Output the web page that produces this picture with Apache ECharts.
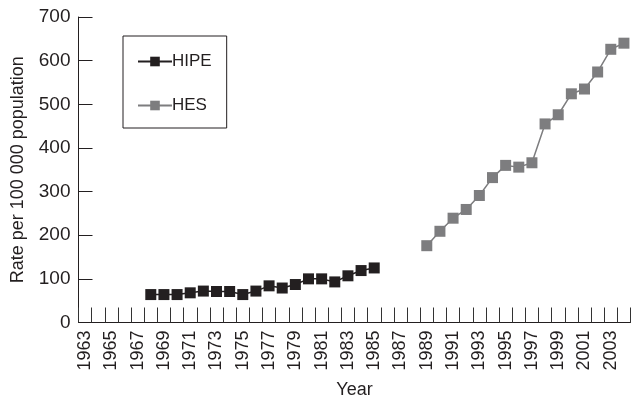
<!DOCTYPE html>
<html>
<head>
<meta charset="utf-8">
<script src="https://cdn.jsdelivr.net/npm/echarts@6/dist/echarts.min.js"></script>
<style>html,body{margin:0;padding:0;background:#fff;overflow:hidden}#c{width:631px;height:406px}</style>
</head>
<body>
<div id="c"></div>
<script>
var firstYear = 1963, lastYear = 2004;
var hipeStart = 1968;
var hipeValues = [64, 64, 64, 68, 72, 71, 71, 64, 72, 84, 79, 87, 100, 100, 93, 107, 119, 125];
var hesStart = 1989;
var hesValues = [176, 209, 239, 259, 291, 332, 360, 356, 366, 455, 476, 524, 535, 574, 626, 640];
var yTicks = [0, 100, 200, 300, 400, 500, 600, 700];

var years = [];
for (var y = firstYear; y <= lastYear; y++) years.push(String(y));
function place(start, vals) {
  return years.map(function (yr) {
    var i = +yr - start;
    return (i >= 0 && i < vals.length) ? vals[i] : null;
  });
}
var FONT = 'Liberation Sans';
var chart = echarts.init(document.getElementById('c'), null, {renderer: 'canvas', width: 631, height: 406});
chart.setOption({
  animation: false,
  backgroundColor: '#fff',
  textStyle: {fontFamily: FONT},
  grid: {left: 78.5, width: 552, top: 17, height: 305.5, containLabel: false, outerBoundsMode: 'none'},
  legend: {
    orient: 'vertical', left: 123, top: 36,
    padding: [17, 15, 14, 14], itemGap: 27,
    itemWidth: 34, itemHeight: 12,
    borderColor: '#231f20', borderWidth: 1,
    textStyle: {fontFamily: FONT, fontSize: 17, color: '#231f20', padding: [0, 0, 0, -5]},
    data: ['HIPE', 'HES']
  },
  xAxis: {
    type: 'category', data: years, boundaryGap: true,
    name: 'Year', nameLocation: 'middle', nameGap: 59,
    nameTextStyle: {fontFamily: FONT, fontSize: 18, color: '#231f20'},
    axisLine: {lineStyle: {color: '#231f20', width: 1}},
    axisTick: {show: true, inside: true, length: 15, interval: 0, lineStyle: {color: '#333'}},
    axisLabel: {interval: 1, rotate: 90, fontFamily: FONT, fontSize: 18, color: '#231f20', margin: 8}
  },
  yAxis: {
    type: 'value', min: 0, max: 700, interval: 100,
    name: 'Rate per 100 000 population', nameLocation: 'middle', nameGap: 51,
    nameTextStyle: {fontFamily: FONT, fontSize: 18, color: '#231f20'},
    axisLine: {show: true, lineStyle: {color: '#231f20', width: 1}},
    axisTick: {show: true, inside: true, length: 14, lineStyle: {color: '#231f20'}},
    splitLine: {show: false},
    axisLabel: {fontFamily: FONT, fontSize: 19, color: '#231f20', margin: 8,
      formatter: function (v) { return yTicks.indexOf(v) >= 0 ? String(v) : ''; }}
  },
  series: [
    {name: 'HIPE', type: 'line', data: place(hipeStart, hipeValues),
     symbol: 'rect', symbolSize: 11, showAllSymbol: true, connectNulls: false,
     itemStyle: {color: '#231f20'}, lineStyle: {color: '#231f20', width: 1.5}},
    {name: 'HES', type: 'line', data: place(hesStart, hesValues),
     symbol: 'rect', symbolSize: 11, showAllSymbol: true, connectNulls: false,
     itemStyle: {color: '#7d7d7f'}, lineStyle: {color: '#7d7d7f', width: 1.5}}
  ]
});
</script>
</body>
</html>
